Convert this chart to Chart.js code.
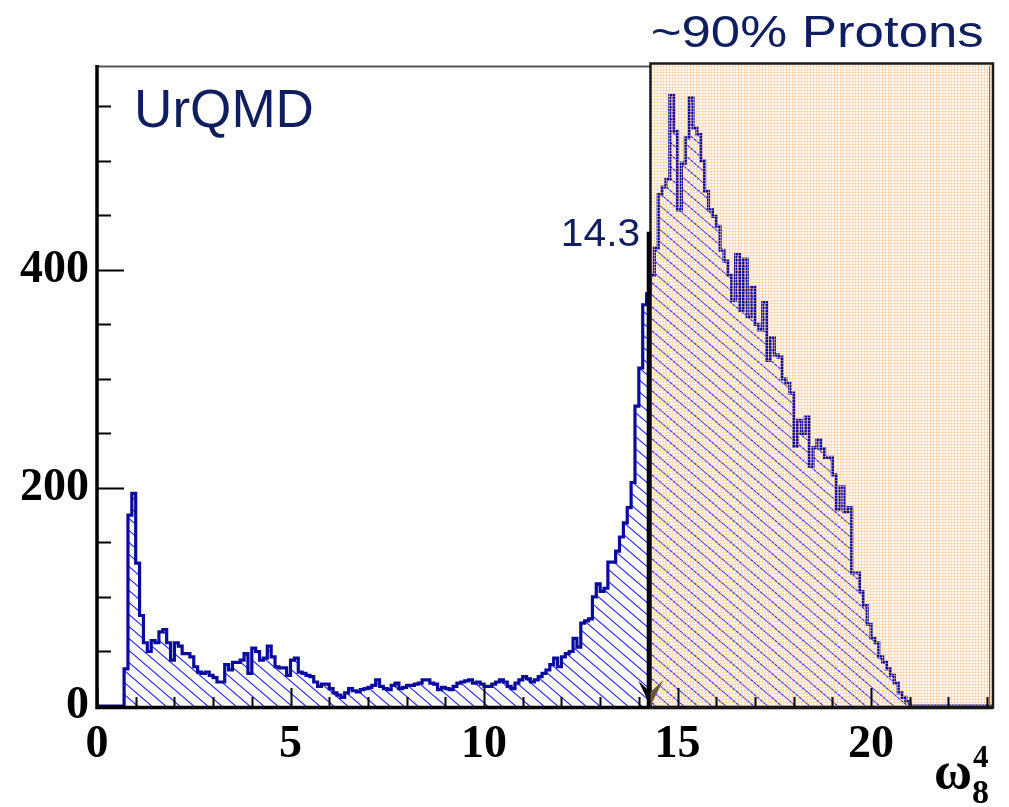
<!DOCTYPE html>
<html>
<head>
<meta charset="utf-8">
<script src="https://cdn.jsdelivr.net/npm/chart.js@4.4.1/dist/chart.umd.min.js"></script>
<style>
    html, body { margin: 0; padding: 0; background: #fff; }
    #wrap { width: 1009px; height: 807px; }
</style>
</head>
<body>
<div id="wrap"><canvas id="histChart" width="1009" height="807"></canvas></div>
<script>
// histogram: bins of width 0.1 starting at 0.7
const binStart = 0.7;
const binWidth = 0.1;
const counts = [
    34, 175, 195, 131, 83, 58, 50, 60, 58, 68,
    70, 58, 42, 58, 55, 48, 48, 45, 36, 31,
    30, 31, 28, 26, 22, 22, 38, 33, 40, 40,
    42, 48, 30, 53, 50, 42, 44, 55, 45, 36,
    35, 35, 28, 42, 44, 31, 30, 28, 27, 22,
    18, 20, 20, 16, 12, 10, 8, 12, 16, 14,
    13, 15, 16, 17, 19, 24, 18, 16, 15, 19,
    21, 16, 17, 19, 19, 20, 21, 24, 24, 21,
    20, 15, 17, 16, 15, 18, 21, 22, 23, 24,
    21, 22, 20, 18, 18, 20, 22, 24, 22, 18,
    16, 21, 24, 27, 25, 22, 24, 27, 30, 33,
    38, 44, 36, 45, 48, 50, 62, 54, 76, 78,
    80, 100, 112, 105, 108, 132, 132, 142, 155, 168,
    182, 205, 275, 310, 368, 378, 395, 420, 469, 476,
    483, 560, 527, 455, 498, 521, 558, 530, 524, 500,
    472, 455, 449, 440, 418, 408, 395, 372, 414, 363,
    410, 357, 384, 350, 345, 370, 317, 338, 322, 320,
    300, 296, 287, 238, 262, 250, 265, 220, 237, 244,
    236, 228, 228, 212, 180, 201, 178, 182, 122, 122,
    105, 92, 75, 62, 58, 45, 40, 34, 28, 21,
    12, 8, 4
];

const xRange = [0, 23.15];
const yRange = [0, 587];
const xTickLabels = [0, 5, 10, 15, 20];
const xMinorStep = 1;
const yTickLabels = [0, 200, 400];
const yMinorStep = 50;

const cutValue = 14.3;        // proton selection cut
const cutLineTop = 435;       // top of the marker line, in counts
const cutLabel = "14.3";
const modelLabel = "UrQMD";
const regionLabel = "~90% Protons";

// step points: left edge of each bin, then close down to zero
var points = [{ x: xRange[0], y: 0 }];
counts.forEach((c, i) => {
    points.push({ x: binStart + i * binWidth, y: c });
});
points.push({ x: binStart + counts.length * binWidth, y: 0 });
points.push({ x: xRange[1], y: 0 });

function makeHatch() {
    const w = 14, h = 12;
    const c = document.createElement("canvas");
    c.width = w;
    c.height = h;
    const g = c.getContext("2d");
    g.strokeStyle = "#3030f0";
    g.lineWidth = 1.2;
    g.beginPath();
    [-w, 0, w].forEach(dx => {
        g.moveTo(dx - w, -h);
        g.lineTo(dx + 2 * w, 2 * h);
    });
    g.stroke();
    return g.createPattern(c, "repeat");
}

function makeMesh() {
    const c = document.createElement("canvas");
    c.width = 3;
    c.height = 3;
    const g = c.getContext("2d");
    g.fillStyle = "rgba(248, 200, 156, 0.5)";
    g.fillRect(0, 0, 3, 1);
    g.fillRect(0, 0, 1, 3);
    return g.createPattern(c, "repeat");
}

// draw text so its visible ink spans [left, right]
function fitText(ctx, text, left, right, baseline, size, family, weight) {
    ctx.save();
    ctx.font = `${weight || ""} ${size}px ${family}`;
    ctx.textAlign = "left";
    ctx.textBaseline = "alphabetic";
    const m = ctx.measureText(text);
    const inkW = m.actualBoundingBoxLeft + m.actualBoundingBoxRight;
    const sx = (right - left) / inkW;
    ctx.translate(left + m.actualBoundingBoxLeft * sx, baseline);
    ctx.scale(sx, 1);
    ctx.fillText(text, 0, 0);
    ctx.restore();
}

const meshPattern = makeMesh();
const textColor = "#0f1f5e";

const framePlugin = {
    id: "framePlugin",
    beforeDatasetsDraw(chart) {
        const { ctx, chartArea, scales } = chart;
        const cx = scales.x.getPixelForValue(cutValue);
        ctx.save();
        ctx.fillStyle = "#fff6ee";
        ctx.fillRect(cx, chartArea.top - 2, chartArea.right - cx, chartArea.bottom - chartArea.top + 2);
        ctx.restore();
    },
    afterDatasetsDraw(chart) {
        const { ctx, chartArea, scales } = chart;
        const x = scales.x, y = scales.y;
        const cx = x.getPixelForValue(cutValue);
        const top = chartArea.top, bottom = chartArea.bottom, left = chartArea.left, right = chartArea.right;

        ctx.save();
        // orange mesh over the selected region
        ctx.fillStyle = meshPattern;
        ctx.fillRect(cx, top - 2, right - cx, bottom - top + 2);

        // frame
        ctx.strokeStyle = "#555";
        ctx.lineWidth = 2;
        ctx.beginPath();
        ctx.moveTo(left, top + 0.5);
        ctx.lineTo(cx, top + 0.5);
        ctx.stroke();
        ctx.strokeStyle = "#777";
        ctx.lineWidth = 1;
        ctx.beginPath();
        ctx.moveTo(right - 3.5, top);
        ctx.lineTo(right - 3.5, bottom);
        ctx.stroke();

        // ticks (inward)
        ctx.strokeStyle = "#000";
        ctx.lineWidth = 2;
        ctx.beginPath();
        for (let v = yRange[0]; v <= yRange[1]; v += yMinorStep) {
            const py = Math.round(y.getPixelForValue(v)) + 0.5;
            const len = yTickLabels.includes(v) ? 27 : 14;
            ctx.moveTo(left, py);
            ctx.lineTo(left + len, py);
        }
        for (let v = xRange[0]; v <= xRange[1]; v += xMinorStep) {
            const px = Math.round(x.getPixelForValue(v)) + 0.5;
            const len = xTickLabels.includes(v) ? 18 : 9;
            ctx.moveTo(px, bottom);
            ctx.lineTo(px, bottom - len);
        }
        ctx.stroke();

        // axes
        ctx.lineWidth = 3.5;
        ctx.beginPath();
        ctx.moveTo(left, top - 1);
        ctx.lineTo(left, bottom + 1.5);
        ctx.lineTo(right, bottom + 1.5);
        ctx.stroke();

        // selection box
        ctx.strokeStyle = "#1a1a1a";
        ctx.lineWidth = 2.5;
        ctx.strokeRect(cx, top - 2.5, right - cx, bottom - top + 4);

        // cut marker line and arrow head
        const lineTopPx = y.getPixelForValue(cutLineTop);
        ctx.strokeStyle = "#000";
        ctx.lineWidth = 4.5;
        ctx.beginPath();
        ctx.moveTo(cx - 1.5, lineTopPx);
        ctx.lineTo(cx - 1.5, bottom);
        ctx.stroke();
        ctx.fillStyle = "#000";
        ctx.beginPath();
        ctx.moveTo(cx - 12, bottom - 25);
        ctx.lineTo(cx, bottom);
        ctx.lineTo(cx, bottom - 14);
        ctx.closePath();
        ctx.fill();
        ctx.fillStyle = "#6a5638";
        ctx.beginPath();
        ctx.moveTo(cx + 13, bottom - 26);
        ctx.lineTo(cx, bottom);
        ctx.lineTo(cx, bottom - 14);
        ctx.closePath();
        ctx.fill();

        // labels
        ctx.fillStyle = textColor;
        const sans = '"Liberation Sans", Arial, sans-serif';
        fitText(ctx, modelLabel, 138, 312, 127, 54, sans);
        fitText(ctx, cutLabel, 563, 639, 246, 38, sans);
        fitText(ctx, regionLabel, 653, 982, 47, 45, sans);

        // axis title omega_8^4
        const serif = '"Liberation Serif", "Times New Roman", serif';
        ctx.fillStyle = "#000";
        ctx.textAlign = "left";
        ctx.textBaseline = "alphabetic";
        ctx.font = `bold 52px ${serif}`;
        ctx.fillText("ω", 934, 788);
        ctx.font = `bold 31px ${serif}`;
        ctx.fillText("4", 973, 767);
        ctx.font = `bold 34px ${serif}`;
        ctx.fillText("8", 972, 803);
        ctx.restore();
    }
};

const tickFont = { family: '"Liberation Serif", "Times New Roman", serif', weight: "bold", size: 46 };

const ctx = document.getElementById("histChart");
const histChart = new Chart(ctx, {
    type: "line",
    data: {
        datasets: [{
            label: "UrQMD",
            data: points,
            stepped: true,
            borderColor: "#0a0a9e",
            borderWidth: 3.2,
            backgroundColor: makeHatch(),
            fill: "origin",
            pointRadius: 0
        }]
    },
    options: {
        responsive: false,
        animation: false,
        devicePixelRatio: 1,
        layout: { padding: { top: 66, right: 16, left: 0, bottom: 0 } },
        plugins: {
            legend: { display: false },
            tooltip: { enabled: false }
        },
        scales: {
            x: {
                type: "linear",
                min: xRange[0],
                max: xRange[1],
                grid: { display: false, drawTicks: false },
                border: { display: false },
                afterBuildTicks: s => { s.ticks = xTickLabels.map(v => ({ value: v })); },
                afterFit: s => { s.height = 101; },
                ticks: { font: tickFont, color: "#000", padding: 12, maxRotation: 0, autoSkip: false }
            },
            y: {
                min: yRange[0],
                max: yRange[1],
                grid: { display: false, drawTicks: false },
                border: { display: false },
                afterBuildTicks: s => { s.ticks = yTickLabels.map(v => ({ value: v })); },
                afterFit: s => { s.width = 97; },
                ticks: { font: tickFont, color: "#000", padding: 8 }
            }
        }
    },
    plugins: [framePlugin]
});
</script>
</body>
</html>
